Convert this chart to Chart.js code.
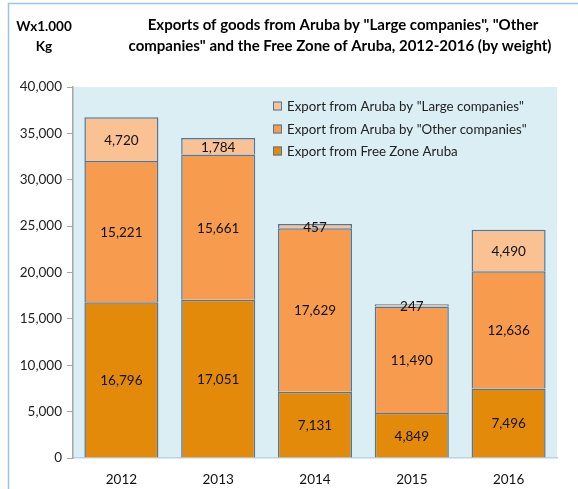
<!DOCTYPE html>
<html><head><meta charset="utf-8">
<script src="https://cdn.jsdelivr.net/npm/chart.js@4.4.1/dist/chart.umd.min.js"></script>
<style>html,body{margin:0;padding:0;background:#fff}#wrap{width:578px;height:489px;position:relative}</style>
</head><body><div id="wrap"><canvas id="c" width="578" height="489"></canvas></div>
<script>
const years = ["2012","2013","2014","2015","2016"];
const freeZone = [16796,17051,7131,4849,7496];
const otherCompanies = [15221,15661,17629,11490,12636];
const largeCompanies = [4720,1784,457,247,4490];
const seriesNames = ['Export from Free Zone Aruba','Export from Aruba by "Other companies"','Export from Aruba by "Large companies"'];
const titleLines = ['Exports of goods from Aruba by "Large companies", "Other','companies" and the Free Zone of Aruba, 2012-2016 (by weight)'];
const unitLines = ['Wx1.000','Kg'];
const FONT = 'Lato, "Liberation Sans", sans-serif';
const BORDER = '#4D77A3';

const decor = {
  id:'decor',
  beforeDraw(chart){
    const {ctx, chartArea:a} = chart;
    ctx.save();
    ctx.fillStyle='#DAEEF3';
    ctx.fillRect(a.left, a.top, a.right-a.left, a.bottom-a.top);
    ctx.strokeStyle='#9DC3E6'; ctx.lineWidth=1.5;
    ctx.beginPath(); ctx.moveTo(8.5,489); ctx.lineTo(8.5,3.5); ctx.lineTo(578,3.5); ctx.stroke();
    ctx.fillStyle='#000'; ctx.textAlign='center'; ctx.textBaseline='middle';
    ctx.font='bold 15px '+FONT;
    ctx.fillText(titleLines[0],343,25);
    ctx.fillText(titleLines[1],340,46);
    ctx.font='bold 13.5px '+FONT;
    ctx.fillText(unitLines[0],44,27);
    ctx.fillText(unitLines[1],44,47);
    ctx.restore();
  },
  afterDatasetsDraw(chart){
    const ctx=chart.ctx;
    ctx.save();
    ctx.font='13.5px '+FONT; ctx.fillStyle='#111'; ctx.textAlign='center'; ctx.textBaseline='middle';
    chart.data.datasets.forEach((ds,i)=>{
      chart.getDatasetMeta(i).data.forEach((bar,j)=>{
        const v=ds.data[j];
        const y=(bar.y+bar.base)/2;
        ctx.fillText(v.toLocaleString('en-US'), bar.x, y+1);
      });
    });
    // legend
    const ys=[106,129,151];
    const order=[2,1,0];
    ctx.font='13.3px '+FONT; ctx.textAlign='left';
    order.forEach((di,k)=>{
      const ds=chart.data.datasets[di];
      ctx.fillStyle=ds.backgroundColor; ctx.fillRect(273,ys[k]-4.5,9,9);
      ctx.strokeStyle=BORDER; ctx.lineWidth=1; ctx.strokeRect(273.5,ys[k]-4,8,8);
      ctx.fillStyle='#222'; ctx.fillText(ds.label,287,ys[k]+1);
    });
    ctx.restore();
  }
};

new Chart(document.getElementById('c'),{
  type:'bar',
  data:{labels:years,datasets:[
    {label:seriesNames[0],data:freeZone,backgroundColor:'#E48A0B'},
    {label:seriesNames[1],data:otherCompanies,backgroundColor:'#F79C4E'},
    {label:seriesNames[2],data:largeCompanies,backgroundColor:'#FAC192'}
  ].map(d=>Object.assign(d,{borderColor:BORDER,borderWidth:1.5,barPercentage:0.765,categoryPercentage:1}))},
  options:{
    responsive:false,animation:false,
    layout:{padding:{top:87,right:21,left:0,bottom:0}},
    plugins:{legend:{display:false},tooltip:{enabled:false},title:{display:false}},
    scales:{
      x:{stacked:true,grid:{display:false},border:{color:'#B7D3E6',width:1.5},
         ticks:{color:'#111',font:{family:FONT,size:13.5},padding:6},
         afterFit(s){s.height=31;}},
      y:{stacked:true,min:0,max:40000,
         ticks:{stepSize:5000,color:'#222',font:{family:FONT,size:13.5},padding:5,
                callback:v=>v.toLocaleString('en-US')},
         grid:{drawOnChartArea:false,tickLength:6,color:'#A6A6A6'},
         border:{color:'#A6A6A6',width:1.5},
         afterFit(s){s.width=73;}}
    }
  },
  plugins:[decor]
});
</script></body></html>
